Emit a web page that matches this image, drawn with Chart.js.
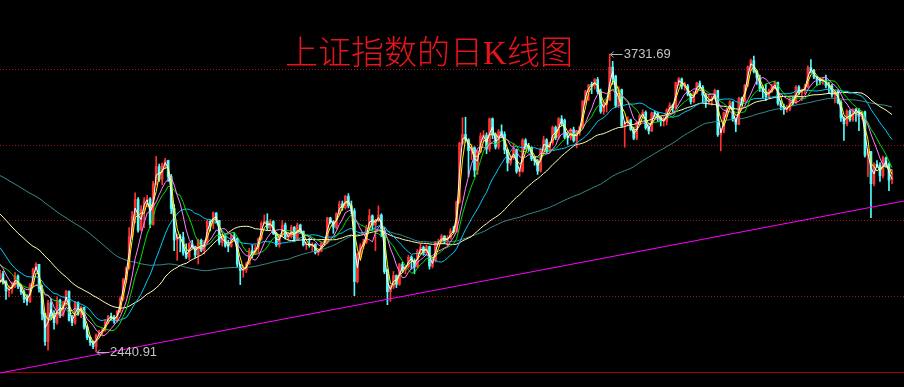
<!DOCTYPE html>
<html>
<head>
<meta charset="utf-8">
<title>上证指数的日K线图</title>
<script src="https://cdn.jsdelivr.net/npm/chart.js@4.4.1/dist/chart.umd.min.js"></script>
<style>
  html, body { margin: 0; padding: 0; background: #000; }
  canvas { display: block; }
</style>
</head>
<body>
<canvas id="kline" width="904" height="387"></canvas>
<script>
// 3-day candles, Aug 2018 - Apr 2022
const firstOpen = 2760;

// closes before the visible window, only used to warm up the long averages
const warmupClose = [
    3275, 3210, 3250, 3290, 3330, 3360,
    3380, 3365, 3384, 3357, 3340, 3350, 3348,
    3375, 3390, 3380, 3400, 3410, 3390,
    3395, 3430, 3420, 3400, 3350, 3320, 3320,
    3310, 3290, 3270, 3300, 3265, 3290, 3307,
    3385, 3410, 3430, 3440, 3500, 3550, 3530,
    3480, 3370, 3260, 3130, 3200, 3270, 3290,
    3260, 3290, 3320, 3300, 3280, 3150, 3130,
    3160, 3180, 3200, 3090, 3070, 3110, 3080,
    3130, 3160, 3170, 3190, 3140, 3120, 3095,
    3110, 3075, 3050, 2960, 2880, 2850, 2785,
    2760, 2830, 2780, 2815, 2875, 2890, 2870, 2860,
    2770, 2705
];

const closes = [
    2780, 2745, 2705, 2715, 2730, 2770, 2725, 2702, 2670, 2660,
    2730, 2800, 2821, 2716, 2606, 2486, 2654, 2598, 2568, 2665,
    2599, 2654, 2703, 2579, 2567, 2654, 2605, 2634, 2549, 2504,
    2483, 2465, 2514, 2526, 2535, 2570, 2596, 2591, 2575, 2618,
    2671, 2754, 2804, 2941, 3027, 3102, 2969, 3060, 3096, 3104,
    2994, 3170, 3244, 3189, 3253, 3270, 3201, 3063, 2926, 2939,
    2938, 2870, 2852, 2909, 2898, 2861, 2925, 2881, 2917, 3008,
    2996, 3043, 3011, 2915, 2942, 2901, 2899, 2944, 2933, 2821,
    2794, 2797, 2823, 2880, 2863, 2890, 2930, 2999, 3008, 2978,
    3006, 2955, 2905, 2947, 2991, 2938, 2941, 2981, 2929, 2991,
    2964, 2905, 2909, 2903, 2907, 2871, 2878, 2914, 2915, 3022,
    3005, 2981, 3040, 3083, 3066, 3115, 3074, 3052, 2746, 2866,
    2901, 2917, 2975, 3031, 2991, 3013, 3034, 2968, 2789, 2702,
    2722, 2772, 2734, 2820, 2796, 2811, 2852, 2838, 2810, 2878,
    2894, 2870, 2898, 2813, 2836, 2915, 2919, 2943, 2920, 2935,
    2965, 2962, 3091, 3345, 3383, 3361, 3314, 3326, 3228, 3310,
    3377, 3379, 3320, 3451, 3380, 3329, 3396, 3384, 3316, 3260,
    3283, 3316, 3223, 3224, 3359, 3332, 3328, 3278, 3270, 3225,
    3320, 3360, 3310, 3347, 3414, 3369, 3451, 3444, 3371, 3369,
    3404, 3357, 3397, 3414, 3528, 3570, 3598, 3596, 3621, 3569,
    3483, 3517, 3532, 3675, 3636, 3509, 3577, 3421, 3436, 3446,
    3405, 3367, 3435, 3466, 3479, 3412, 3398, 3477, 3474, 3457,
    3441, 3441, 3490, 3510, 3497, 3608, 3624, 3592, 3592, 3557,
    3525, 3566, 3606, 3588, 3553, 3524, 3528, 3539, 3574, 3382,
    3397, 3477, 3494, 3524, 3446, 3427, 3540, 3528, 3597, 3676,
    3703, 3656, 3628, 3582, 3568, 3547, 3572, 3587, 3609, 3518,
    3505, 3491, 3492, 3533, 3520, 3589, 3564, 3576, 3589, 3673,
    3662, 3632, 3622, 3615, 3620, 3595, 3593, 3555, 3569, 3522,
    3455, 3429, 3485, 3446, 3491, 3489, 3462, 3481, 3293, 3309,
    3170, 3254, 3250, 3204, 3282, 3252, 3186, 3195
];

const highs = [
    2796, 2790, 2750, 2728, 2745, 2785, 2775, 2735, 2710, 2690,
    2738, 2805, 2828, 2821, 2730, 2610, 2665, 2670, 2620, 2680,
    2670, 2660, 2708, 2706, 2600, 2660, 2658, 2640, 2636, 2555,
    2510, 2490, 2520, 2535, 2545, 2578, 2600, 2610, 2600, 2620,
    2680, 2760, 2810, 2980, 3050, 3130, 3110, 3075, 3110, 3120,
    3110, 3180, 3288, 3255, 3260, 3280, 3272, 3210, 3080, 2950,
    2950, 2960, 2910, 2915, 2925, 2900, 2930, 2930, 2925, 3012,
    3010, 3048, 3045, 3005, 2950, 2945, 2925, 2950, 2958, 2935,
    2820, 2815, 2830, 2890, 2905, 2905, 2935, 3005, 3035, 3040,
    3015, 3010, 2960, 2950, 3010, 3000, 2960, 2990, 2985, 3000,
    2995, 2965, 2915, 2935, 2915, 2910, 2888, 2918, 2925, 3025,
    3025, 3010, 3045, 3095, 3095, 3120, 3127, 3095, 3062, 2870,
    2910, 2930, 2990, 3058, 3035, 3015, 3074, 3040, 2980, 2800,
    2730, 2790, 2775, 2825, 2830, 2815, 2860, 2858, 2845, 2885,
    2910, 2900, 2905, 2900, 2850, 2920, 2930, 2950, 2945, 2945,
    2975, 2985, 3095, 3350, 3456, 3458, 3365, 3340, 3330, 3315,
    3390, 3400, 3390, 3455, 3455, 3390, 3405, 3425, 3395, 3320,
    3295, 3345, 3320, 3240, 3365, 3365, 3345, 3330, 3285, 3275,
    3325, 3375, 3365, 3350, 3420, 3420, 3457, 3465, 3450, 3390,
    3410, 3415, 3400, 3420, 3530, 3575, 3600, 3610, 3625, 3630,
    3580, 3525, 3535, 3731.69, 3700, 3640, 3590, 3580, 3440, 3460,
    3450, 3415, 3440, 3470, 3490, 3485, 3420, 3480, 3485, 3480,
    3460, 3460, 3495, 3520, 3515, 3610, 3630, 3628, 3610, 3600,
    3560, 3570, 3610, 3615, 3595, 3560, 3555, 3550, 3580, 3575,
    3410, 3480, 3500, 3530, 3525, 3450, 3545, 3545, 3600, 3680,
    3710, 3723, 3660, 3640, 3590, 3600, 3580, 3600, 3615, 3610,
    3530, 3515, 3510, 3540, 3545, 3595, 3595, 3580, 3600, 3680,
    3708, 3665, 3635, 3630, 3630, 3640, 3610, 3600, 3575, 3575,
    3530, 3460, 3490, 3490, 3495, 3495, 3495, 3485, 3485, 3320,
    3310, 3260, 3270, 3260, 3290, 3285, 3260, 3230
];

const lows = [
    2740, 2735, 2669, 2680, 2695, 2720, 2715, 2690, 2655, 2644,
    2655, 2725, 2790, 2700, 2580, 2470, 2449, 2585, 2540, 2560,
    2590, 2595, 2640, 2575, 2555, 2560, 2600, 2590, 2540, 2495,
    2470, 2455, 2440.91, 2505, 2515, 2530, 2565, 2580, 2565, 2570,
    2612, 2665, 2740, 2800, 2930, 3000, 2960, 2965, 2980, 3070,
    2980, 2990, 3165, 3180, 3165, 3235, 3180, 3040, 2880, 2838,
    2875, 2860, 2845, 2840, 2890, 2850, 2822, 2875, 2865, 2912,
    2965, 2975, 3000, 2905, 2900, 2895, 2875, 2895, 2925, 2810,
    2733, 2765, 2785, 2820, 2850, 2870, 2870, 2925, 2995, 2970,
    2970, 2950, 2898, 2895, 2940, 2930, 2925, 2935, 2920, 2925,
    2955, 2900, 2885, 2895, 2878, 2865, 2860, 2875, 2905, 2910,
    2998, 2955, 2975, 3035, 3055, 3060, 3065, 3040, 2685, 2740,
    2850, 2890, 2910, 2970, 2970, 2880, 3005, 2940, 2780, 2646,
    2660, 2715, 2720, 2730, 2785, 2780, 2805, 2800, 2780, 2805,
    2865, 2860, 2865, 2800, 2805, 2830, 2905, 2910, 2910, 2900,
    2930, 2955, 2960, 3085, 3340, 3350, 3200, 3275, 3200, 3210,
    3305, 3350, 3300, 3310, 3365, 3320, 3320, 3370, 3300, 3225,
    3250, 3275, 3215, 3202, 3220, 3320, 3310, 3270, 3250, 3210,
    3220, 3310, 3300, 3305, 3340, 3360, 3362, 3420, 3365, 3340,
    3360, 3350, 3325, 3380, 3410, 3520, 3530, 3560, 3580, 3560,
    3475, 3470, 3480, 3530, 3600, 3500, 3500, 3415, 3328, 3420,
    3400, 3360, 3360, 3430, 3460, 3405, 3385, 3395, 3460, 3440,
    3420, 3420, 3425, 3485, 3480, 3495, 3595, 3580, 3575, 3550,
    3515, 3520, 3560, 3580, 3520, 3500, 3515, 3510, 3535, 3375,
    3312, 3390, 3460, 3490, 3440, 3395, 3425, 3510, 3525, 3590,
    3660, 3650, 3600, 3570, 3540, 3530, 3540, 3565, 3580, 3510,
    3490, 3470, 3480, 3485, 3510, 3515, 3555, 3530, 3560, 3585,
    3650, 3625, 3595, 3600, 3600, 3585, 3560, 3545, 3520, 3515,
    3440, 3357, 3420, 3440, 3440, 3440, 3400, 3450, 3285, 3200,
    3023, 3160, 3240, 3180, 3195, 3240, 3140, 3170
];

// moving averages (periods in 3-day candles: ~5,10,20,30,60,120,250 days)
const maPeriods = [2, 3, 7, 10, 20, 40, 83];
const maColors = ['#ffffff', '#ffff00', '#ff80ff', '#00e000', '#00ccff', '#ffffb4', '#3a8a8a'];

// horizontal guides and the support line
const gridValues = [3667, 3338, 3013, 2683];
const baseValue = 2354;
const trendStart = 2350;
const trendEnd = 3095;
const yMin = 2289.5;
const yMax = 3965.6;
const padRight = 4; // empty slots after the last candle

const titleText = '上证指数的日K线图';

const n = closes.length;
const total = n + padRight;
const labels = Array.from({ length: total }, (_, i) => i);
const opens = closes.map((c, i) => i === 0 ? firstOpen : closes[i - 1]);

const upColor = '#ff3232';
const downColor = '#54fcfc';
const colors = closes.map((c, i) => c >= opens[i] ? upColor : downColor);
const wicks = closes.map((c, i) => [Math.min(lows[i], opens[i], c), Math.max(highs[i], opens[i], c)]);
const bodies = closes.map((c, i) => [opens[i], c]);

const allCloses = warmupClose.concat(closes);
function movingAverage(p) {
    return closes.map((c, i) => {
        const k = warmupClose.length + i;
        let s = 0;
        for (let j = k - p + 1; j <= k; j++) s += allCloses[j];
        return s / p;
    });
}

const trend = new Array(total).fill(null);
trend[0] = trendStart;
trend[total - 1] = trendEnd;

function marker(ctx, px, py, text) {
    ctx.strokeStyle = '#b4b4b4';
    ctx.fillStyle = '#c4c4c4';
    ctx.lineWidth = 1;
    const yy = Math.round(py) + 0.5;
    ctx.beginPath();
    ctx.moveTo(px + 1, yy);
    ctx.lineTo(px + 13, yy);
    ctx.moveTo(px + 1, yy);
    ctx.lineTo(px + 4, yy - 3);
    ctx.moveTo(px + 1, yy);
    ctx.lineTo(px + 4, yy + 3);
    ctx.stroke();
    ctx.font = '13px "Liberation Sans", Arial, sans-serif';
    ctx.textAlign = 'left';
    ctx.textBaseline = 'middle';
    ctx.fillText(text, px + 14, yy);
}

const decor = {
    id: 'decor',
    beforeDatasetsDraw(chart) {
        const { ctx, chartArea, scales: { y } } = chart;
        ctx.save();
        ctx.lineWidth = 1;
        ctx.strokeStyle = '#9a1616';
        ctx.setLineDash([1, 2]);
        gridValues.forEach(v => {
            const py = Math.round(y.getPixelForValue(v)) + 0.5;
            ctx.beginPath();
            ctx.moveTo(chartArea.left, py);
            ctx.lineTo(chartArea.right, py);
            ctx.stroke();
        });
        ctx.setLineDash([]);
        ctx.strokeStyle = '#a00000';
        const by = Math.round(y.getPixelForValue(baseValue)) + 0.5;
        ctx.beginPath();
        ctx.moveTo(chartArea.left, by);
        ctx.lineTo(chartArea.right, by);
        ctx.stroke();

        // title
        ctx.fillStyle = '#e8141c';
        ctx.font = '300 33px "Liberation Serif", "Noto Sans CJK SC"';
        ctx.textAlign = 'center';
        ctx.textBaseline = 'middle';
        ctx.fillText(titleText, 429, 55);
        ctx.restore();
    },
    afterDatasetsDraw(chart) {
        const { ctx, scales: { x, y } } = chart;
        let hi = 0, lo = 0;
        highs.forEach((v, i) => { if (v > highs[hi]) hi = i; });
        lows.forEach((v, i) => { if (v < lows[lo]) lo = i; });
        ctx.save();
        marker(ctx, x.getPixelForValue(hi), y.getPixelForValue(highs[hi]), highs[hi].toFixed(2));
        marker(ctx, x.getPixelForValue(lo), y.getPixelForValue(lows[lo]), lows[lo].toFixed(2));
        ctx.restore();
    }
};

new Chart(document.getElementById('kline'), {
    type: 'bar',
    data: {
        labels: labels,
        datasets: [
            {
                type: 'line',
                data: trend,
                borderColor: '#ff00ff',
                borderWidth: 1,
                pointRadius: 0,
                spanGaps: true,
                order: 0
            },
            ...maPeriods.map((p, k) => ({
                type: 'line',
                data: movingAverage(p),
                borderColor: maColors[k],
                borderWidth: 1,
                pointRadius: 0,
                tension: 0,
                order: 1
            })),
            {
                data: bodies,
                backgroundColor: colors,
                barThickness: 2,
                minBarLength: 1,
                grouped: false,
                order: 2
            },
            {
                data: wicks,
                backgroundColor: colors,
                barThickness: 1,
                grouped: false,
                order: 3
            }
        ]
    },
    options: {
        responsive: false,
        animation: false,
        devicePixelRatio: 1,
        layout: { padding: 0 },
        scales: {
            x: { display: false, offset: false },
            y: { display: false, min: yMin, max: yMax }
        },
        plugins: {
            legend: { display: false },
            tooltip: { enabled: false }
        }
    },
    plugins: [decor]
});
</script>
</body>
</html>
